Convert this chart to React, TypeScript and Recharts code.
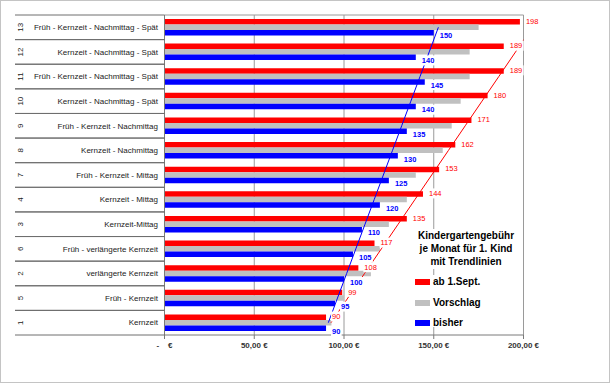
import type { JSX } from "react"
import { Bar, CartesianGrid, ComposedChart, LabelList, Line, XAxis, YAxis } from "recharts"

// rows from bottom to top, as in the original sheet
const groupNumbers = ["1", "5", "2", "6", "3", "4", "7", "8", "9", "10", "11", "12", "13"]
const categories = [
  "Kernzeit",
  "Früh - Kernzeit",
  "verlängerte Kernzeit",
  "Früh - verlängerte Kernzeit",
  "Kernzeit-Mittag",
  "Kernzeit - Mittag",
  "Früh - Kernzeit - Mittag",
  "Kernzeit - Nachmittag",
  "Früh - Kernzeit - Nachmittag",
  "Kernzeit - Nachmittag - Spät",
  "Früh - Kernzeit - Nachmittag - Spät",
  "Kernzeit - Nachmittag - Spät",
  "Früh - Kernzeit - Nachmittag - Spät",
]
const abSept = [90, 99, 108, 117, 135, 144, 153, 162, 171, 180, 189, 189, 198]
const vorschlag = [93, 100, 115, 120, 125, 135, 140, 155, 160, 165, 170, 170, 175]
const bisher = [90, 95, 100, 105, 110, 120, 125, 130, 135, 140, 145, 140, 150]
const xTicks = [0, 50, 100, 150, 200]

const legendItems = [
  { label: "ab 1.Sept.", color: "#ff0000" },
  { label: "Vorschlag", color: "#c0c0c0" },
  { label: "bisher", color: "#0000ff" },
]

// linear trendline over the category index, like the spreadsheet does
function linearTrend(values: number[]): number[] {
  const n = values.length
  const meanX = (n + 1) / 2
  const meanY = values.reduce((s, v) => s + v, 0) / n
  let sxy = 0
  let sxx = 0
  values.forEach((v, i) => {
    sxy += (i + 1 - meanX) * (v - meanY)
    sxx += (i + 1 - meanX) * (i + 1 - meanX)
  })
  const slope = sxy / sxx
  return values.map((_, i) => meanY + slope * (i + 1 - meanX))
}

const redTrend = linearTrend(abSept)
const blueTrend = linearTrend(bisher)

const data = groupNumbers.map((num, i) => ({
  num,
  label: categories[i],
  red: abSept[i],
  gray: vorschlag[i],
  blue: bisher[i],
  redTrend: redTrend[i],
  blueTrend: blueTrend[i],
}))

const FONT = '"Liberation Sans", Arial, sans-serif'
const PLOT_TOP = 15
const PLOT_BOTTOM = 335
const PLOT_LEFT = 164.5
const BAND = (PLOT_BOTTOM - PLOT_TOP) / groupNumbers.length

function CategoryTick(props: any): JSX.Element {
  const { y, payload } = props
  const row = data.find((d) => d.num === payload.value)
  return (
    <g>
      <line x1={15} x2={PLOT_LEFT} y1={y - BAND / 2} y2={y - BAND / 2} stroke="#6e6e6e" />
      <line x1={15} x2={PLOT_LEFT} y1={y + BAND / 2} y2={y + BAND / 2} stroke="#6e6e6e" />
      <text x={158} y={y} dy="0.35em" textAnchor="end" fontSize={8} fontFamily={FONT} fill="#222">
        {row ? row.label : ""}
      </text>
      <text
        transform={`translate(20 ${y}) rotate(-90)`}
        dy="0.35em"
        textAnchor="middle"
        fontSize={8}
        fontFamily={FONT}
        fill="#222"
      >
        {payload.value}
      </text>
    </g>
  )
}

function makeValueLabel(color: string, dy: number, bold: boolean) {
  return function ValueLabel(props: any): JSX.Element {
    const { x, y, value } = props
    const text = String(value)
    const tx = x + 6
    const ty = y + dy
    const w = text.length * 4.3 + 2
    return (
      <g>
        <rect x={tx - 1} y={ty - 5} width={w} height={10} fill="#fff" />
        <text
          x={tx}
          y={ty}
          dy="0.35em"
          fontSize={7.5}
          fontFamily={FONT}
          fontWeight={bold ? "bold" : "normal"}
          fill={color}
        >
          {text}
        </text>
      </g>
    )
  }
}

const RedLabel = makeValueLabel("#ff0000", -6.2, false)
const BlueLabel = makeValueLabel("#0000ff", 8.5, true)

function formatEuro(value: number): string {
  if (value === 0) return "-\u00a0\u00a0\u00a0\u00a0€"
  return `${value.toFixed(2).replace(".", ",")} €`
}

export default function App(): JSX.Element {
  return (
    <div
      style={{
        position: "absolute",
        left: 0,
        top: 0,
        width: 610,
        height: 383,
        background: "#fff",
        boxSizing: "border-box",
        border: "1px solid #c4c4c4",
        fontFamily: FONT,
      }}
    >
      <div style={{ position: "absolute", left: -1, top: -1 }}>
        <ComposedChart
          width={610}
          height={383}
          data={data}
          layout="vertical"
          margin={{ top: 15, right: 86.5, bottom: 28, left: 15 }}
          barSize={5.5}
          barGap={0}
        >
          <CartesianGrid stroke="#9a9a9a" horizontalPoints={[PLOT_TOP]} />
          <XAxis
            type="number"
            domain={[0, 200]}
            ticks={xTicks}
            interval={0}
            allowDataOverflow
            height={20}
            tickSize={4}
            tickMargin={3}
            stroke="#7a7a7a"
            tick={{ fontSize: 8, fontWeight: "bold", fill: "#333", fontFamily: FONT }}
            tickFormatter={formatEuro}
          />
          <YAxis
            type="category"
            dataKey="num"
            reversed
            width={149.5}
            interval={0}
            tickLine={false}
            stroke="#7a7a7a"
            tick={<CategoryTick />}
          />
          <Bar dataKey="red" fill="#ff0000" isAnimationActive={false} />
          <Bar dataKey="gray" fill="#c0c0c0" isAnimationActive={false} />
          <Bar dataKey="blue" fill="#0000ff" isAnimationActive={false} />
          <Line
            dataKey="redTrend"
            stroke="#ff0000"
            strokeWidth={1}
            dot={false}
            activeDot={false}
            isAnimationActive={false}
          />
          <Line
            dataKey="blueTrend"
            stroke="#0000ff"
            strokeWidth={1}
            dot={false}
            activeDot={false}
            isAnimationActive={false}
          />
          <Line dataKey="red" stroke="none" dot={false} activeDot={false} isAnimationActive={false}>
            <LabelList dataKey="red" content={<RedLabel />} />
          </Line>
          <Line dataKey="blue" stroke="none" dot={false} activeDot={false} isAnimationActive={false}>
            <LabelList dataKey="blue" content={<BlueLabel />} />
          </Line>
        </ComposedChart>
      </div>

      <div
        style={{
          position: "absolute",
          left: 409,
          top: 227.5,
          width: 112,
          height: 40,
          background: "#fff",
          textAlign: "center",
          fontSize: 10,
          fontWeight: "bold",
          lineHeight: "13px",
          color: "#000",
        }}
      >
        Kindergartengebühr
        <br />
        je Monat für 1. Kind
        <br />
        mit Trendlinien
      </div>

      <div
        style={{
          position: "absolute",
          left: 411,
          top: 274,
          width: 100,
          height: 51.5,
          background: "#fff",
          overflow: "hidden",
        }}
      >
        {legendItems.map((item, i) => (
          <div key={item.label} style={{ position: "absolute", left: 0, top: 7.3 + i * 20.2 - 6, height: 12 }}>
            <div
              style={{
                position: "absolute",
                left: 3,
                top: 3,
                width: 15,
                height: 6,
                background: item.color,
              }}
            />
            <div
              style={{
                position: "absolute",
                left: 21,
                top: 0,
                fontSize: 10,
                fontWeight: "bold",
                lineHeight: "12px",
                whiteSpace: "nowrap",
                color: "#000",
              }}
            >
              {item.label}
            </div>
          </div>
        ))}
      </div>
    </div>
  )
}
